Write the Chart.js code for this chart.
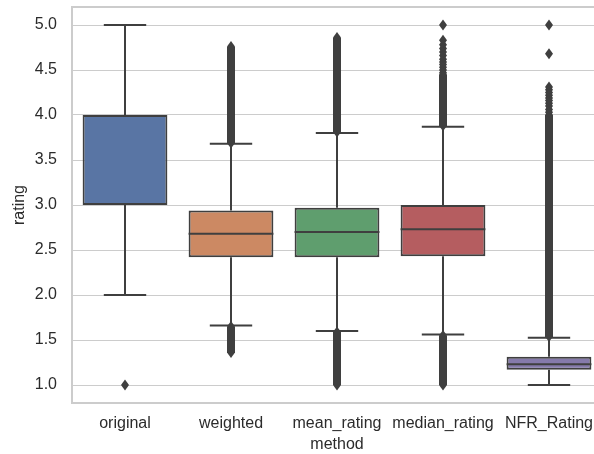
<!DOCTYPE html>
<html>
<head>
<meta charset="utf-8">
<script src="https://cdn.jsdelivr.net/npm/chart.js@4.4.1/dist/chart.umd.min.js"></script>
<style>
  html, body { margin: 0; padding: 0; background: #ffffff; overflow: hidden; }
  #wrap { width: 610px; height: 454px; }
</style>
</head>
<body>
<div id="wrap"><canvas id="c" width="610" height="454"></canvas></div>
<script>
// Rating distributions per method (box statistics)
const categories   = ['original', 'weighted', 'mean_rating', 'median_rating', 'NFR_Rating'];
const q1Values     = [3.0, 2.42, 2.42, 2.43, 1.17];
const q3Values     = [4.0, 2.94, 2.97, 3.00, 1.315];
const medianValues = [4.0, 2.68, 2.70, 2.73, 1.23];
const whiskerLow   = [2.0, 1.66, 1.60, 1.56, 1.0];
const whiskerHigh  = [5.0, 3.68, 3.80, 3.87, 1.525];

// Ranges packed so densely with outliers that they form a solid run
const denseLow  = [null, [1.36, 1.65], [1.0, 1.59], [1.0, 1.55], null];
const denseHigh = [null, [3.69, 4.76], [3.81, 4.86], [3.88, 4.45], [1.54, 4.0]];

// Individually visible outliers
const sparseOutliers = [
  [1.0],
  [],
  [],
  [5.0, 4.83, 4.78, 4.74, 4.70, 4.66, 4.62, 4.59, 4.56, 4.53, 4.50, 4.47],
  [5.0, 4.68, 4.31, 4.28, 4.25, 4.22, 4.19, 4.16, 4.13, 4.10, 4.06, 4.03]
];

const yTicks = [1.0, 1.5, 2.0, 2.5, 3.0, 3.5, 4.0, 4.5, 5.0];
const yMin = 0.8, yMax = 5.2;

const boxColors = ['#5975a4', '#cc8963', '#5f9e6e', '#b55d60', '#857aab'];
const lineColor = '#3f3f3f';
const gridColor = '#cccccc';
const textColor = '#2b2b2b';
const FONT = "'Liberation Sans', Arial, sans-serif";

function boxHalfWidth(chart) {
  const x = chart.scales.x;
  const band = x.getPixelForValue(1) - x.getPixelForValue(0);
  return band * 0.4;
}

function diamond(ctx, cx, cy, hw, hh) {
  ctx.beginPath();
  ctx.moveTo(cx, cy - hh);
  ctx.lineTo(cx + hw, cy);
  ctx.lineTo(cx, cy + hh);
  ctx.lineTo(cx - hw, cy);
  ctx.closePath();
  ctx.fill();
}

function denseRun(ctx, cx, yTop, yBottom, hw, hh) {
  ctx.beginPath();
  ctx.moveTo(cx, yTop - hh);
  ctx.lineTo(cx + hw, yTop);
  ctx.lineTo(cx + hw, yBottom);
  ctx.lineTo(cx, yBottom + hh);
  ctx.lineTo(cx - hw, yBottom);
  ctx.lineTo(cx - hw, yTop);
  ctx.closePath();
  ctx.fill();
}

const boxParts = {
  id: 'boxParts',
  beforeDatasetsDraw(chart) {
    const { ctx, chartArea: a, scales: { x, y } } = chart;
    ctx.save();
    // frame
    ctx.strokeStyle = gridColor;
    ctx.lineWidth = 2;
    ctx.strokeRect(a.left, a.top, a.right - a.left, a.bottom - a.top);
    // whiskers and caps
    const capHalf = boxHalfWidth(chart) / 2;
    ctx.strokeStyle = lineColor;
    ctx.lineWidth = 2;
    categories.forEach((c, i) => {
      const cx = x.getPixelForValue(i);
      ctx.beginPath();
      ctx.moveTo(cx, y.getPixelForValue(q3Values[i]));
      ctx.lineTo(cx, y.getPixelForValue(whiskerHigh[i]));
      ctx.moveTo(cx, y.getPixelForValue(q1Values[i]));
      ctx.lineTo(cx, y.getPixelForValue(whiskerLow[i]));
      ctx.moveTo(cx - capHalf, y.getPixelForValue(whiskerHigh[i]));
      ctx.lineTo(cx + capHalf, y.getPixelForValue(whiskerHigh[i]));
      ctx.moveTo(cx - capHalf, y.getPixelForValue(whiskerLow[i]));
      ctx.lineTo(cx + capHalf, y.getPixelForValue(whiskerLow[i]));
      ctx.stroke();
    });
    ctx.restore();
  },
  afterDatasetsDraw(chart) {
    const { ctx, scales: { x, y } } = chart;
    const half = boxHalfWidth(chart);
    ctx.save();
    ctx.strokeStyle = lineColor;
    ctx.lineWidth = 2;
    categories.forEach((c, i) => {
      if (medianValues[i] === q1Values[i] || medianValues[i] === q3Values[i]) return;
      const cx = x.getPixelForValue(i);
      const my = y.getPixelForValue(medianValues[i]);
      ctx.beginPath();
      ctx.moveTo(cx - half, my);
      ctx.lineTo(cx + half, my);
      ctx.stroke();
    });
    ctx.fillStyle = lineColor;
    const hw = 4, hh = 5.5;
    categories.forEach((c, i) => {
      const cx = x.getPixelForValue(i);
      [denseLow[i], denseHigh[i]].forEach(r => {
        if (!r) return;
        denseRun(ctx, cx, y.getPixelForValue(r[1]), y.getPixelForValue(r[0]), hw, hh);
      });
      sparseOutliers[i].forEach(v => diamond(ctx, cx, y.getPixelForValue(v), hw, hh));
    });
    ctx.restore();
  }
};

new Chart(document.getElementById('c'), {
  type: 'bar',
  data: {
    labels: categories,
    datasets: [{
      data: categories.map((c, i) => [q1Values[i], q3Values[i]]),
      backgroundColor: boxColors,
      borderColor: lineColor,
      borderWidth: 2,
      borderSkipped: false,
      barPercentage: 0.8,
      categoryPercentage: 1.0
    }]
  },
  options: {
    responsive: false,
    animation: false,
    devicePixelRatio: 1,
    layout: { padding: { top: 7, right: 8, left: 0, bottom: 0 } },
    plugins: { legend: { display: false }, tooltip: { enabled: false } },
    scales: {
      x: {
        type: 'category',
        grid: { display: false, drawTicks: false },
        border: { display: false },
        ticks: { color: textColor, font: { family: FONT, size: 16 }, padding: 11, maxRotation: 0, autoSkip: false },
        title: { display: true, text: 'method', color: textColor, font: { family: FONT, size: 16 }, padding: { top: 0, bottom: 0 } },
        afterFit(s) { s.height = 51; s.paddingLeft = 0; s.paddingRight = 0; }
      },
      y: {
        min: yMin,
        max: yMax,
        grid: { color: gridColor, lineWidth: 1, drawTicks: false },
        border: { display: false },
        afterBuildTicks(s) { s.ticks = yTicks.map(v => ({ value: v })); },
        ticks: {
          color: textColor,
          font: { family: FONT, size: 16 },
          padding: 15,
          callback: v => Number(v).toFixed(1)
        },
        title: { display: true, text: 'rating', color: textColor, font: { family: FONT, size: 16 }, padding: { top: 10, bottom: 0 } },
        afterFit(s) { s.width = 72; s.paddingTop = 0; s.paddingBottom = 0; }
      }
    }
  },
  plugins: [boxParts]
});
</script>
</body>
</html>
